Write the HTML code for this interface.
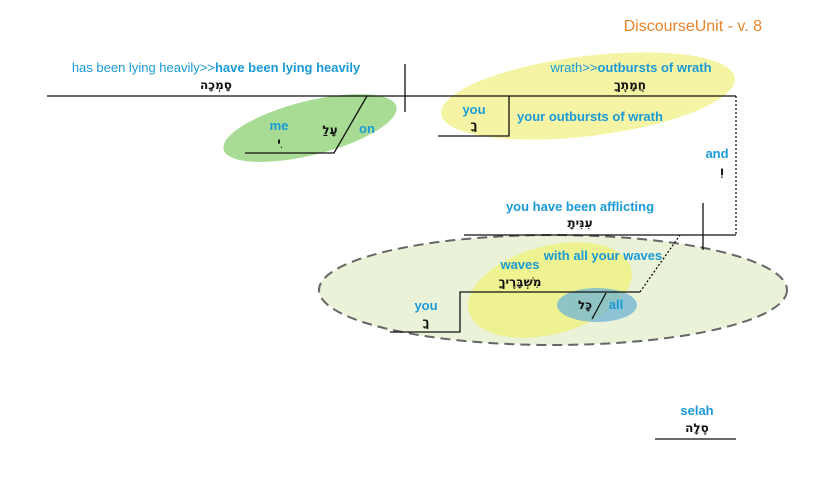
<!DOCTYPE html>
<html><head><meta charset="utf-8"><style>
body{margin:0;background:#fff}
svg{display:block}
text{font-family:"Liberation Sans","DejaVu Sans",sans-serif}
.b{fill:#1a9ad6;font-size:13px;font-weight:bold}
.n{fill:#1a9ad6;font-size:13px}
.h{fill:#111;font-size:12px;font-weight:bold;font-family:"DejaVu Sans",sans-serif}
</style></head><body>
<svg width="825" height="477" viewBox="0 0 825 477" xmlns="http://www.w3.org/2000/svg">
<rect width="825" height="477" fill="#fff"/>
<text x="762" y="31" text-anchor="end" fill="#e8832a" font-size="16">DiscourseUnit - v. 8</text>

<ellipse cx="310" cy="128" rx="89" ry="27" transform="rotate(-14 310 128)" fill="#9fd88a" opacity="0.9"/>
<ellipse cx="588" cy="96" rx="148" ry="40" transform="rotate(-7 588 96)" fill="#f3f39a" opacity="0.9"/>
<ellipse cx="553" cy="290" rx="234" ry="55" fill="#eaf3d8" stroke="#666" stroke-width="2" stroke-dasharray="10,6"/>
<ellipse cx="550" cy="290" rx="84" ry="44" transform="rotate(-15 550 290)" fill="#eef28a" opacity="0.9"/>
<ellipse cx="597" cy="305" rx="40" ry="17" fill="#6fb3d6" opacity="0.75"/>

<g stroke="#111" stroke-width="1.3" fill="none">
<line x1="47" y1="96" x2="736" y2="96"/>
<line x1="405" y1="64" x2="405" y2="112"/>
<polyline points="367,96 334,153 245,153"/>
<polyline points="438,136 509,136 509,96"/>
<line x1="464" y1="235" x2="736" y2="235"/>
<line x1="703" y1="203" x2="703" y2="250"/>
<polyline points="640,292 460,292 460,332 390,332"/>
<line x1="592" y1="319" x2="606" y2="293"/>
<line x1="655" y1="439" x2="736" y2="439"/>
</g>
<g stroke="#111" stroke-width="1.3" fill="none" stroke-dasharray="2,2">
<line x1="736" y1="96" x2="736" y2="235"/>
<line x1="640" y1="292" x2="680" y2="235"/>
</g>

<text x="216" y="72" text-anchor="middle" class="n">has been lying heavily&gt;&gt;<tspan font-weight="bold">have been lying heavily</tspan></text>
<text x="216" y="89" text-anchor="middle" class="h">סָמְכָה</text>
<text x="279" y="130" text-anchor="middle" class="b">me</text>
<text x="279" y="146" text-anchor="middle" class="h">ִי</text>
<text x="330" y="134" text-anchor="middle" class="h">עָלַ</text>
<text x="367" y="133" text-anchor="middle" class="b">on</text>

<text x="631" y="72" text-anchor="middle" class="n">wrath&gt;&gt;<tspan font-weight="bold">outbursts of wrath</tspan></text>
<text x="630" y="89" text-anchor="middle" class="h">חֲמָתֶךָ</text>
<text x="474" y="114" text-anchor="middle" class="b">you</text>
<text x="474" y="129" text-anchor="middle" class="h">ךָ</text>
<text x="590" y="121" text-anchor="middle" class="b">your outbursts of wrath</text>

<text x="717" y="158" text-anchor="middle" class="b">and</text>
<text x="722" y="175" text-anchor="middle" class="h">וְ</text>
<text x="580" y="211" text-anchor="middle" class="b">you have been afflicting</text>
<text x="580" y="227" text-anchor="middle" class="h">עִנִּיתָ</text>

<text x="603" y="260" text-anchor="middle" class="b">with all your waves</text>
<text x="520" y="269" text-anchor="middle" class="b">waves</text>
<text x="520" y="286" text-anchor="middle" class="h">מִשְׁבָּרֶיךָ</text>
<text x="426" y="310" text-anchor="middle" class="b">you</text>
<text x="426" y="326" text-anchor="middle" class="h">ךָ</text>
<text x="585" y="309" text-anchor="middle" class="h">כָּל</text>
<text x="616" y="309" text-anchor="middle" class="b">all</text>

<text x="697" y="415" text-anchor="middle" class="b">selah</text>
<text x="697" y="432" text-anchor="middle" class="h">סֶלָה</text>
</svg>
</body></html>
